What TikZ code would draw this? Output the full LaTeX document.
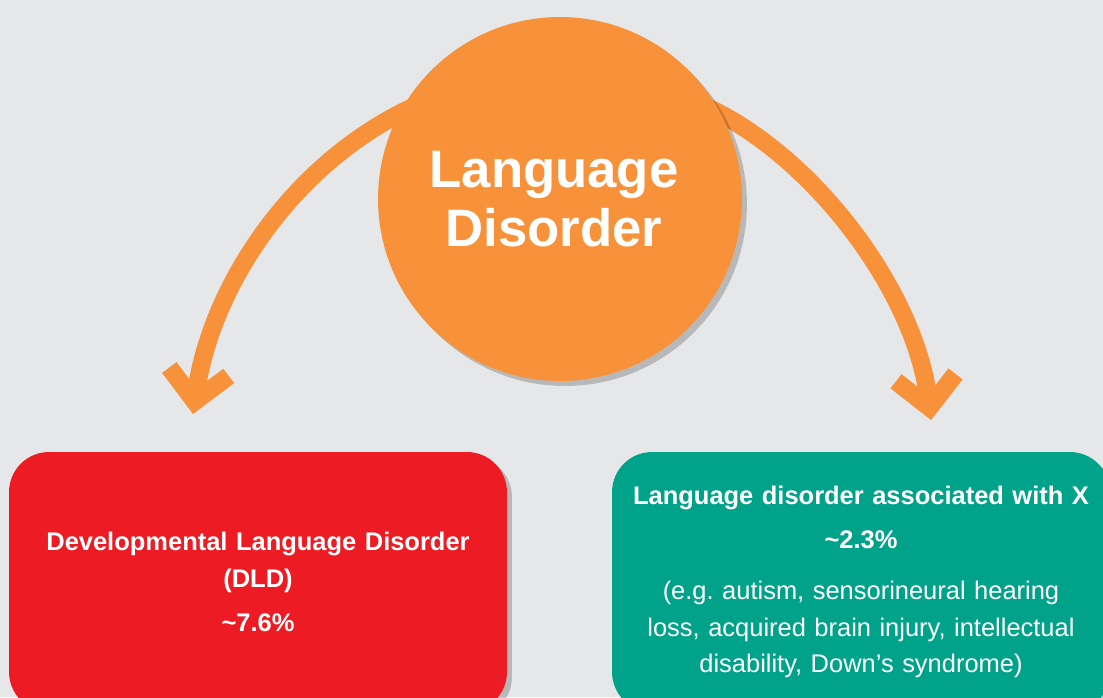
\documentclass[tikz,border=0pt]{standalone}
\usepackage{fontspec}
\setmainfont{Liberation Sans}
\frenchspacing
\usetikzlibrary{arrows.meta,shadows,calc}
\definecolor{paper}{HTML}{E6E7E8}
\definecolor{tangerine}{HTML}{F7923A}
\definecolor{scarlet}{HTML}{ED1C24}
\definecolor{jade}{HTML}{00A38A}
\pgfdeclarelayer{back}
\pgfdeclarelayer{links}
\pgfsetlayers{back,links,main}
\tikzset{
    softshadow/.style={drop shadow={shadow xshift=0.1cm, shadow yshift=-0.1cm, opacity=0.2, fill=black}},
    hub/.style={circle, fill=tangerine, minimum size=7.28cm, inner sep=0pt, text=white, align=center,
                font=\fontsize{30}{34}\selectfont\bfseries, softshadow},
    panel/.style={rounded corners=0.8cm, minimum width=9.96cm, minimum height=5.2cm, text width=9.6cm,
                  align=center, text=white, font=\fontsize{14.5}{21}\selectfont, softshadow},
    curvearrow/.style={draw=tangerine, line width=0.36cm, -{Straight Barb[length=0.6cm, width=1.2cm]},
                 preaction={draw=black, opacity=0.12, transform canvas={xshift=0.1cm, yshift=-0.1cm}}}
}

\begin{document}
\begin{tikzpicture}
  [
    x = 0.02cm,
    y = -0.02cm,
  ]
  \begin{pgfonlayer}{back}
    \fill [paper] (0,0) rectangle (1103,697);
  \end{pgfonlayer}
  \path [use as bounding box, clip] (0,0) rectangle (1103,697);

  \node [hub] (disorder) at (560,199) {Language\hspace*{0.24cm}\\Disorder\hspace*{0.24cm}};
  \node [panel, fill=scarlet] (dld) at (258,582)
    {\bfseries Developmental Language Disorder\\(DLD)\\[4pt]\textasciitilde7.6\%};
  \node [panel, fill=jade] (assoc) at (861,582)
    {{\bfseries Language disorder associated with X\\[4pt]\textasciitilde2.3\%}\\[8pt]
     (e.g. autism, sensorineural hearing\\loss, acquired brain injury, intellectual\\disability, Down’s syndrome)};

  \coordinate (dldtip) at (193,414);
  \coordinate (assoctip) at (931,420);

  % arrows go behind the circle
  \begin{pgfonlayer}{links}
    \draw [curvearrow] ($(disorder.145)!0.08!(disorder.center)$) .. controls (300,155) and (212,280) .. (dldtip);
    \draw [curvearrow] ($(disorder.35)!0.08!(disorder.center)$) .. controls (810,150) and (915,290) .. (assoctip);
  \end{pgfonlayer}
\end{tikzpicture}
\end{document}
